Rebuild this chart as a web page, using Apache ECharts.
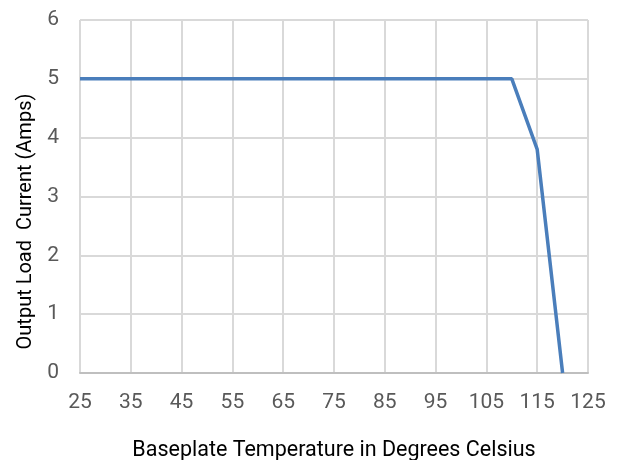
<!DOCTYPE html>
<html><head><meta charset="utf-8">
<script src="https://cdn.jsdelivr.net/npm/echarts@6/dist/echarts.min.js"></script>
<style>html,body{margin:0;padding:0;background:#fff}#c{width:620px;height:460px}</style>
</head><body><div id="c"></div>
<script>
const temps = [25, 110, 115, 120];
const current = [5, 5, 3.8, 0];
const xTitle = 'Baseplate Temperature in Degrees Celsius';
const yTitle = 'Output Load  Current (Amps)';
const font = '"Liberation Sans Narrow", "Arial Narrow", Roboto, sans-serif';
const chart = echarts.init(document.getElementById('c'));
chart.setOption({
  animation: false,
  grid: {left: 80, right: 32, top: 20, bottom: 87, containLabel: false, outerBoundsMode: 'none'},
  xAxis: {
    type: 'value', min: 25, max: 125, interval: 10,
    name: xTitle, nameLocation: 'middle', nameGap: 67,
    nameTextStyle: {color: '#000', fontSize: 21.5, fontFamily: font},
    axisLine: {show: true, lineStyle: {color: '#bfbfbf', width: 2}},
    axisTick: {show: false},
    axisLabel: {color: '#595959', fontSize: 21, fontFamily: font, margin: 19},
    splitLine: {show: true, lineStyle: {color: '#d9d9d9', width: 2}}
  },
  yAxis: {
    type: 'value', min: 0, max: 6, interval: 1,
    name: yTitle, nameLocation: 'middle', nameGap: 44, nameRotate: 90,
    nameTextStyle: {color: '#000', fontSize: 20, fontFamily: font, padding: [0, 50, 0, 0]},
    axisLine: {show: false},
    axisTick: {show: false},
    axisLabel: {color: '#595959', fontSize: 21, fontFamily: font, margin: 21},
    splitLine: {show: true, lineStyle: {color: '#d9d9d9', width: 2}}
  },
  series: [{
    type: 'line',
    data: temps.map((t, i) => [t, current[i]]),
    showSymbol: false,
    lineStyle: {color: '#4a7ebb', width: 3.5},
    itemStyle: {color: '#4a7ebb'}
  }]
});
</script></body></html>
